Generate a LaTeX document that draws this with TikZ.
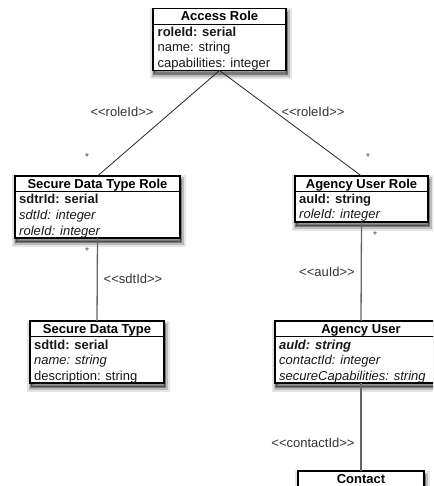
\documentclass[tikz,border=0pt]{standalone}
\usepackage{fontspec}
\setmainfont{Liberation Sans}
\usetikzlibrary{calc}
\tikzset{
  umlbox/.style={draw=black, line width=1.1pt, fill=white, rectangle, inner sep=0pt, outer sep=0pt, anchor=north west,
    preaction={draw=black, opacity=0.10, line width=9pt, transform canvas={shift={(1pt,-4pt)}}},
    preaction={draw=black, opacity=0.18, line width=5pt, transform canvas={shift={(1pt,-4pt)}}},
    preaction={draw=black, fill=black, opacity=0.35, line width=1.5pt, transform canvas={shift={(1pt,-4pt)}}}},
  sepline/.style={draw=black, line width=0.9pt},
  ctitle/.style={font=\fontsize{13}{15}\selectfont\bfseries, inner sep=0pt, anchor=base, text=black},
  attr/.style={font=\fontsize{13}{15}\selectfont, inner sep=0pt, anchor=base west, text=black!90},
  lbl/.style={font=\fontsize{13}{15}\selectfont, inner sep=0pt, text=black!80},
  mult/.style={font=\fontsize{10}{11}\selectfont, inner sep=0pt, text=black!70},
  diag/.style={draw=black!85, line width=0.8pt},
  vert/.style={draw=black!60, line width=1.3pt}
}
\begin{document}
\begin{tikzpicture}[x=1pt,y=-1pt]
\useasboundingbox (0,0) rectangle (433,486);
\clip (0,0) rectangle (433,486);
\fill[white] (0,0) rectangle (433,486);

% boxes
\node[umlbox, minimum width=133pt, minimum height=62pt] (ar) at (153,8.5) {};
\node[umlbox, minimum width=165pt, minimum height=62pt] (sdtr) at (15,176) {};
\node[umlbox, minimum width=133pt, minimum height=46pt] (aur) at (295,176) {};
\node[umlbox, minimum width=134pt, minimum height=62pt] (sdt) at (30,321) {};
\node[umlbox, minimum width=172pt, minimum height=62pt] (au) at (275,321) {};
\node[umlbox, minimum width=126pt, minimum height=62pt] (ct) at (298,471) {};

\foreach \n in {ar,sdtr,aur,sdt,au,ct}
  \draw[sepline] ($(\n.north west)+(0,15.5)$) -- ($(\n.north east)+(0,15.5)$);

% Access Role
\node[ctitle] (ar-t) at ($(ar.north)+(0,12.5)$) {Access Role};
\node[attr] (ar-1) at ($(ar.north west)+(4.5,28)$) {\bfseries roleId: serial};
\node[attr] (ar-2) at ($(ar.north west)+(4.5,43.5)$) {name: string};
\node[attr] (ar-3) at ($(ar.north west)+(4.5,59)$) {capabilities: integer};

% Secure Data Type Role
\node[ctitle] (sdtr-t) at ($(sdtr.north)+(0,12.5)$) {Secure Data Type Role};
\node[attr] (sdtr-1) at ($(sdtr.north west)+(4,28)$) {\bfseries sdtrId: serial};
\node[attr] (sdtr-2) at ($(sdtr.north west)+(4,43.5)$) {\itshape sdtId: integer};
\node[attr] (sdtr-3) at ($(sdtr.north west)+(4,59)$) {\itshape roleId: integer};

% Agency User Role
\node[ctitle] (aur-t) at ($(aur.north)+(0,12.5)$) {Agency User Role};
\node[attr] (aur-1) at ($(aur.north west)+(4,27)$) {\bfseries auId: string};
\node[attr] (aur-2) at ($(aur.north west)+(4,42.5)$) {\itshape roleId: integer};

% Secure Data Type
\node[ctitle] (sdt-t) at ($(sdt.north)+(0,12.5)$) {Secure Data Type};
\node[attr] (sdt-1) at ($(sdt.north west)+(4,28)$) {\bfseries sdtId: serial};
\node[attr] (sdt-2) at ($(sdt.north west)+(4,43.5)$) {\itshape name: string};
\node[attr] (sdt-3) at ($(sdt.north west)+(4,59)$) {description: string};

% Agency User
\node[ctitle] (au-t) at ($(au.north)+(0,12.5)$) {Agency User};
\node[attr] (au-1) at ($(au.north west)+(4,28)$) {\bfseries\itshape auId: string};
\node[attr] (au-2) at ($(au.north west)+(4,43.5)$) {\itshape contactId: integer};
\node[attr] (au-3) at ($(au.north west)+(4,59)$) {\itshape secureCapabilities: string};

% Contact
\node[ctitle] (ct-t) at ($(ct.north)+(0,12.5)$) {Contact};

% connectors
\draw[diag] (ar.south) -- (sdtr.north);
\draw[diag] (ar.south) -- (aur.north);
\draw[vert] (sdtr.south) -- (sdt.north);
\draw[vert] (aur.south) -- (au.north);
\draw[vert] (au.south) -- (ct.north);

% labels
\node[lbl] (l-role1) at (122,112) {<{}<roleId>{}>};
\node[lbl] (l-role2) at (313,112) {<{}<roleId>{}>};
\node[lbl] (l-sdt) at (133,279) {<{}<sdtId>{}>};
\node[lbl] (l-au) at (327,272) {<{}<auId>{}>};
\node[lbl] (l-ct) at (313,443) {<{}<contactId>{}>};

\node[mult] (m1) at (87,157) {*};
\node[mult] (m2) at (368,157) {*};
\node[mult] (m3) at (87,251) {*};
\node[mult] (m4) at (375,235) {*};
\end{tikzpicture}
\end{document}
